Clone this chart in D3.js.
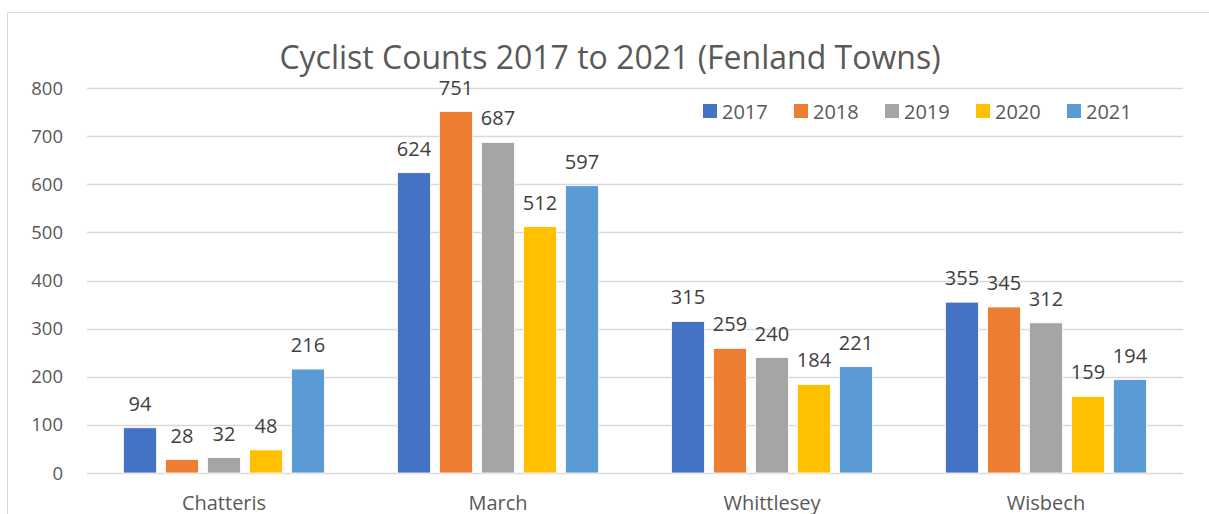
<!DOCTYPE html>
<html>
<head>
<meta charset="utf-8" />
<style type="text/css">
	*{margin:0px;padding:0px;}
	body{background:#fff;font-family:"Open Sans", sans-serif;}
</style>
</head>
<body>
<script src="https://cdn.jsdelivr.net/npm/d3@7/dist/d3.min.js"></script>
<script type="text/javascript">
	// data
	var towns = ["Chatteris", "March", "Whittlesey", "Wisbech"];
	var years = ["2017", "2018", "2019", "2020", "2021"];
	var y2017 = [94, 624, 315, 355];
	var y2018 = [28, 751, 259, 345];
	var y2019 = [32, 687, 240, 312];
	var y2020 = [48, 512, 184, 159];
	var y2021 = [216, 597, 221, 194];
	var yTicks = [0, 100, 200, 300, 400, 500, 600, 700, 800];
	var colours = ["#4472C4", "#ED7D31", "#A5A5A5", "#FFC000", "#5B9BD5"];

	var series = [y2017, y2018, y2019, y2020, y2021];

	var W = 1209, H = 514;
	var svg = d3.select("body").append("svg").attr("width", W).attr("height", H);

	// chart border
	svg.append("rect").attr("x", 7.5).attr("y", 12.5).attr("width", 1220).attr("height", 520)
		.attr("fill", "none").attr("stroke", "#d9d9d9").attr("stroke-width", 1);

	var x0 = d3.scaleBand().domain(towns).range([87, 1183]);
	var y = d3.scaleLinear().domain([0, 800]).range([473, 88]);

	// gridlines
	svg.selectAll(".grid").data(yTicks).enter().append("line")
		.attr("x1", 87).attr("x2", 1183)
		.attr("y1", function(d){return Math.round(y(d)) + 0.5})
		.attr("y2", function(d){return Math.round(y(d)) + 0.5})
		.attr("stroke", "#d9d9d9").attr("stroke-width", 1.5);

	// y tick labels
	svg.selectAll(".ytick").data(yTicks).enter().append("text")
		.attr("x", 63).attr("y", function(d){return y(d) + 6.5})
		.attr("text-anchor", "end").attr("font-size", 18.5).attr("fill", "#595959")
		.text(function(d){return d});

	var barW = 33, step = 42;
	var rows = [];
	towns.forEach(function(t, i){
		series.forEach(function(s, j){
			rows.push({town: t, k: j, v: s[i]});
		});
	});
	function bx(d){ return x0(d.town) + x0.bandwidth()/2 - (step*4 + barW)/2 + d.k*step; }

	svg.selectAll(".bar").data(rows).enter().append("rect")
		.attr("x", bx).attr("width", barW)
		.attr("y", function(d){return y(d.v)})
		.attr("height", function(d){return y(0) - y(d.v)})
		.attr("fill", function(d){return colours[d.k]})
		.attr("stroke", "#fff").attr("stroke-width", 0.8);

	svg.selectAll(".val").data(rows).enter().append("text")
		.attr("x", function(d){return bx(d) + barW/2})
		.attr("y", function(d){return y(d.v) - 17})
		.attr("text-anchor", "middle").attr("font-size", 20).attr("fill", "#404040")
		.text(function(d){return d.v});

	// category labels
	svg.selectAll(".cat").data(towns).enter().append("text")
		.attr("x", function(d){return x0(d) + x0.bandwidth()/2})
		.attr("y", 510)
		.attr("text-anchor", "middle").attr("font-size", 20).attr("fill", "#595959")
		.text(function(d){return d});

	// title
	svg.append("text").attr("x", 610).attr("y", 69).attr("text-anchor", "middle")
		.attr("font-size", 32).attr("fill", "#595959")
		.text("Cyclist Counts 2017 to 2021 (Fenland Towns)");

	// legend
	var lg = svg.selectAll(".leg").data(years).enter().append("g")
		.attr("transform", function(d, i){return "translate(" + (703 + i*91) + ",104)"});
	lg.append("rect").attr("width", 14).attr("height", 14)
		.attr("fill", function(d, i){return colours[i]});
	lg.append("text").attr("x", 19).attr("y", 14.5).attr("font-size", 20).attr("fill", "#595959")
		.text(function(d){return d});
</script>
</body>
</html>
